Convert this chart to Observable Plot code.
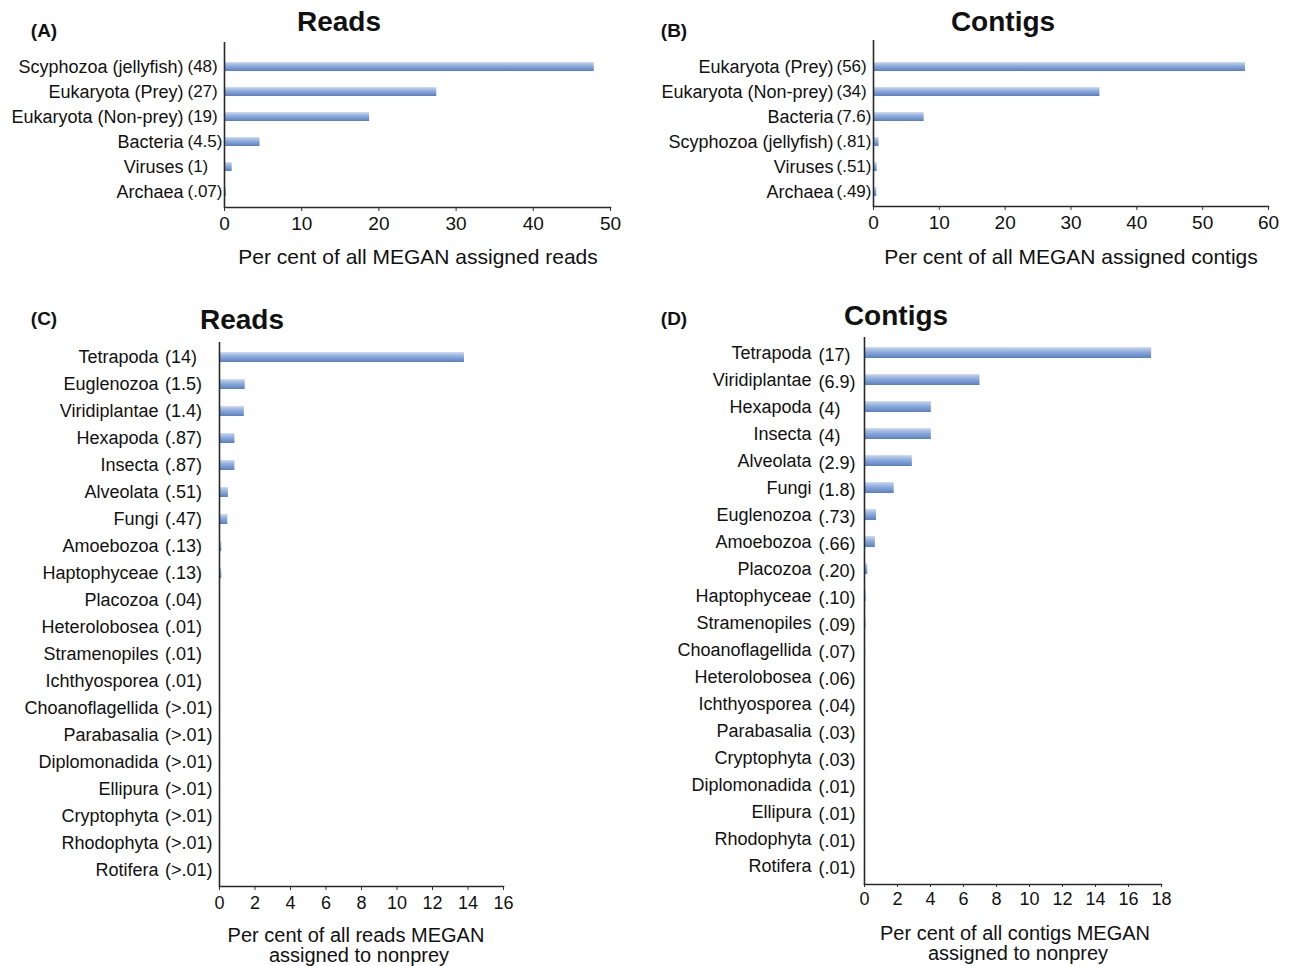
<!DOCTYPE html>
<html><head><meta charset="utf-8">
<script src="https://cdn.jsdelivr.net/npm/d3@7"></script>
<script src="https://cdn.jsdelivr.net/npm/@observablehq/plot@0.6"></script>
<style>
body{margin:0;background:#fff;font-family:"Liberation Sans",Arial,Helvetica,sans-serif;color:#111}
#root{position:relative;width:1292px;height:966px;overflow:hidden;background:#fff}
.abs{position:absolute;transform:translate(-50%,-50%);white-space:nowrap;line-height:1}
.panel{position:absolute}
.ttl{font-weight:bold;font-size:28px}
.let{font-weight:bold;font-size:19px}
.axt{font-size:21px}
.axt2{font-size:20px}
</style></head><body><div id="root"></div>
<script>
// ---- Panel A: Reads ----
const namesA = ["Scyphozoa (jellyfish)","Eukaryota (Prey)","Eukaryota (Non-prey)","Bacteria","Viruses","Archaea"];
const labelsA = ["(48)","(27)","(19)","(4.5)","(1)","(.07)"];
const valuesA = [47.9, 27.5, 18.8, 4.6, 1.0, 0.25];
const ticksA = [0,10,20,30,40,50];

// ---- Panel B: Contigs ----
const namesB = ["Eukaryota (Prey)","Eukaryota (Non-prey)","Bacteria","Scyphozoa (jellyfish)","Viruses","Archaea"];
const labelsB = ["(56)","(34)","(7.6)","(.81)","(.51)","(.49)"];
const valuesB = [56.5, 34.4, 7.7, 0.85, 0.55, 0.5];
const ticksB = [0,10,20,30,40,50,60];

// ---- Panel C: Reads (nonprey) ----
const namesC = ["Tetrapoda","Euglenozoa","Viridiplantae","Hexapoda","Insecta","Alveolata","Fungi","Amoebozoa","Haptophyceae","Placozoa","Heterolobosea","Stramenopiles","Ichthyosporea","Choanoflagellida","Parabasalia","Diplomonadida","Ellipura","Cryptophyta","Rhodophyta","Rotifera"];
const labelsC = ["(14)","(1.5)","(1.4)","(.87)","(.87)","(.51)","(.47)","(.13)","(.13)","(.04)","(.01)","(.01)","(.01)","(>.01)","(>.01)","(>.01)","(>.01)","(>.01)","(>.01)","(>.01)"];
const valuesC = [13.8, 1.45, 1.4, 0.87, 0.87, 0.5, 0.47, 0.13, 0.13, 0.04, 0.01, 0.01, 0.01, 0.005, 0.005, 0.005, 0.005, 0.005, 0.005, 0.005];
const ticksC = [0,2,4,6,8,10,12,14,16];

// ---- Panel D: Contigs (nonprey) ----
const namesD = ["Tetrapoda","Viridiplantae","Hexapoda","Insecta","Alveolata","Fungi","Euglenozoa","Amoebozoa","Placozoa","Haptophyceae","Stramenopiles","Choanoflagellida","Heterolobosea","Ichthyosporea","Parabasalia","Cryptophyta","Diplomonadida","Ellipura","Rhodophyta","Rotifera"];
const labelsD = ["(17)","(6.9)","(4)","(4)","(2.9)","(1.8)","(.73)","(.66)","(.20)","(.10)","(.09)","(.07)","(.06)","(.04)","(.03)","(.03)","(.01)","(.01)","(.01)","(.01)"];
const valuesD = [17.4, 7.0, 4.05, 4.05, 2.9, 1.8, 0.73, 0.66, 0.2, 0.1, 0.09, 0.07, 0.06, 0.04, 0.03, 0.03, 0.01, 0.01, 0.01, 0.01];
const ticksD = [0,2,4,6,8,10,12,14,16,18];

const root = document.getElementById("root");

function addText(txt, cls, x, y){
  const d = document.createElement("div");
  d.className = "abs " + cls;
  d.textContent = txt;
  d.style.left = x + "px"; d.style.top = y + "px";
  root.appendChild(d);
}

function panel(c){
  const data = c.names.map((n,i)=>({name:n, label:c.labels[i], value:c.values[i]}));
  const gid = "grad" + c.id;
  const plot = Plot.plot({
    width: c.width, height: c.height,
    marginLeft: c.ml, marginRight: c.mr, marginTop: c.mt, marginBottom: c.mb,
    style: {fontFamily: "'Liberation Sans', Arial, sans-serif", fontSize: c.tickFont + "px", color: "#111", background: "transparent", overflow: "visible"},
    x: {domain: [c.ticks[0], c.ticks[c.ticks.length-1]]},
    y: {domain: c.names, paddingInner: c.pad, paddingOuter: c.pad/2, insetTop: c.it, insetBottom: c.ib, axis: null},
    marks: [
      Plot.barX(data, {y: "name", x: "value", fill: `url(#${gid})`}),
      Plot.axisX({ticks: c.ticks, tickSize: c.tickSize, tickPadding: c.tickPadding, label: null, stroke: "#333", tickFormat: d3.format("d")}),
      Plot.ruleX([0], {stroke: "#2a2a2a", strokeWidth: 1.6}),
      Plot.frame({anchor: "bottom", stroke: "#2a2a2a", strokeWidth: 1.6}),
      Plot.text(data, {y: "name", text: "name", frameAnchor: "left", textAnchor: "end", dx: c.nameDx, fontSize: c.nameFont, fill: "#111"}),
      Plot.text(data, {y: "name", text: "label", frameAnchor: "left", textAnchor: "start", dx: c.valDx, dy: c.valDy || 0, fontSize: c.valFont, fill: "#111"})
    ]
  });
  const svg = d3.select(plot);
  const g = svg.insert("defs", ":first-child").append("linearGradient")
    .attr("id", gid).attr("x1", 0).attr("y1", 0).attr("x2", 0).attr("y2", 1);
  [[0,"#d4dff2"],[0.2,"#adc3e6"],[0.5,"#88a7d9"],[0.8,"#6d90cc"],[1,"#5a7ec0"]]
    .forEach(([o,col]) => g.append("stop").attr("offset", o).attr("stop-color", col));
  const wrap = document.createElement("div");
  wrap.className = "panel";
  wrap.style.left = c.left + "px"; wrap.style.top = c.top + "px";
  wrap.appendChild(plot);
  root.appendChild(wrap);
}

panel({id:"A", names:namesA, labels:labelsA, values:valuesA, ticks:ticksA,
  left:0, top:40, width:640, height:200, ml:224, mr:30, mt:2, mb:33, it:11, ib:2, pad:0.66,
  tickSize:4, tickPadding:5, tickFont:19, nameDx:-41, valDx:-37, nameFont:18, valFont:17});
panel({id:"B", names:namesB, labels:labelsB, values:valuesB, ticks:ticksB,
  left:640, top:38, width:652, height:200, ml:233, mr:24, mt:2, mb:32, it:13, ib:1, pad:0.66,
  tickSize:4, tickPadding:5, tickFont:19, nameDx:-40, valDx:-37, nameFont:18, valFont:17});
panel({id:"C", names:namesC, labels:labelsC, values:valuesC, ticks:ticksC,
  left:0, top:330, width:520, height:580, ml:219, mr:17, mt:12, mb:24, it:0, ib:0, pad:0.62,
  tickSize:4, tickPadding:6, tickFont:18, nameDx:-61, valDx:-54.5, nameFont:18, valFont:18});
panel({id:"D", names:namesD, labels:labelsD, values:valuesD, ticks:ticksD,
  left:640, top:330, width:652, height:580, ml:224, mr:131, mt:7, mb:26, it:0, ib:3, pad:0.6,
  tickSize:3, tickPadding:4.5, tickFont:18, nameDx:-53, valDx:-46, valDy:2, nameFont:18, valFont:18});

addText("(A)", "let", 44, 30);
addText("Reads", "ttl", 339, 22);
addText("Per cent of all MEGAN assigned reads", "axt", 418, 256);
addText("(B)", "let", 674, 30);
addText("Contigs", "ttl", 1003, 22);
addText("Per cent of all MEGAN assigned contigs", "axt", 1071, 256);
addText("(C)", "let", 44, 318);
addText("Reads", "ttl", 242, 320);
addText("Per cent of all reads MEGAN", "axt2", 356, 935);
addText("assigned to nonprey", "axt2", 359, 955);
addText("(D)", "let", 674, 318);
addText("Contigs", "ttl", 896, 316);
addText("Per cent of all contigs MEGAN", "axt2", 1015, 933);
addText("assigned to nonprey", "axt2", 1018, 953);
</script></body></html>
